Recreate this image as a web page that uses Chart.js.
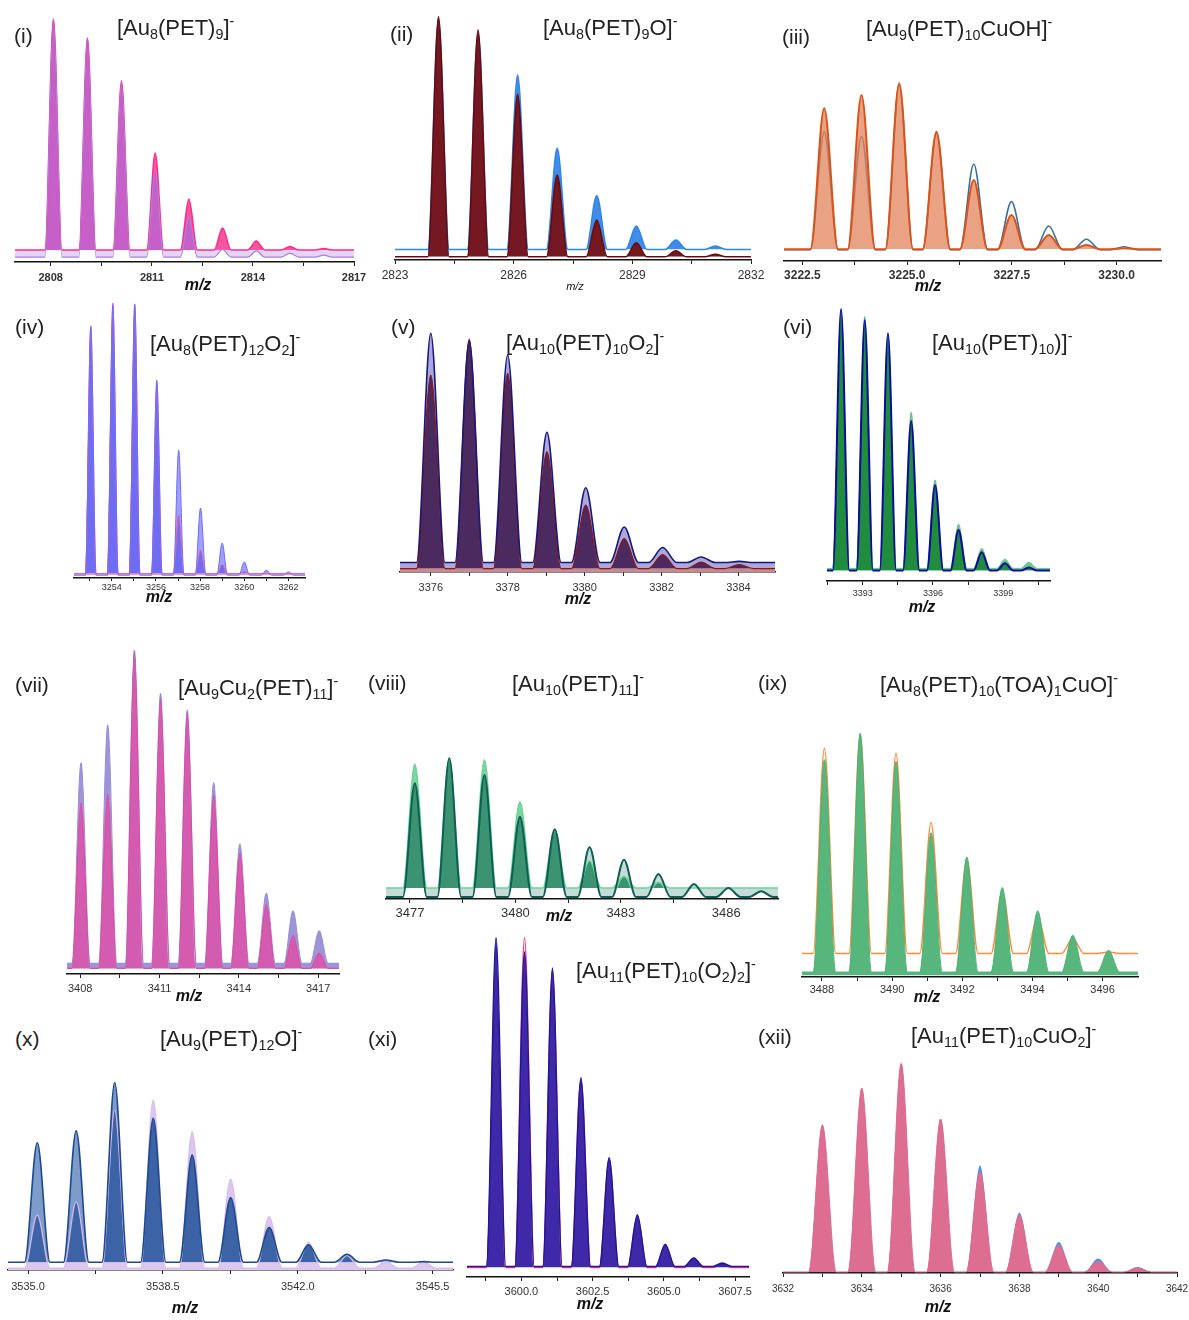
<!DOCTYPE html>
<html><head><meta charset="utf-8">
<script src="https://cdn.jsdelivr.net/npm/chart.js@4.4.0/dist/chart.umd.min.js"></script>
<style>
body{margin:0;background:#fff;width:1189px;height:1320px;position:relative;overflow:hidden;font-family:"Liberation Sans",Arial,sans-serif;}
.lbl{position:absolute;font-size:21px;line-height:1;color:#222;white-space:nowrap;}
.ttl{position:absolute;font-size:22px;line-height:1;color:#222;white-space:nowrap;}
.ttl sub{font-size:65%;vertical-align:-0.28em;line-height:0;}
.ttl sup{font-size:65%;vertical-align:0.62em;line-height:0;}
.mz{position:absolute;line-height:1;transform:translate(-50%,-50%);color:#111;white-space:nowrap;}
</style></head><body>
<script>
// ---------------- DATA (relative intensity, % of panel height) ----------------
// (i) [Au8(PET)9]-
const mz1 = [2808.08, 2809.09, 2810.10, 2811.10, 2812.10, 2813.10, 2814.10, 2815.10, 2816.10];
const pink1 = [98.4, 90.7, 73.3, 44.1, 25.5, 13.8, 8.5, 6.3, 5.5];
const purple1 = [98.3, 90.6, 72.5, 37.2, 18.2, 5.1, 4.5, 3.6, 2.8];
const base1 = [4.9, 2.0];
const ticks1 = ['2808', '2811', '2814', '2817'];
const minor1 = [2809.5, 2812.5, 2815.5];
// (ii) [Au8(PET)9O]-
const mz2 = [2824.1, 2825.1, 2826.1, 2827.1, 2828.1, 2829.1, 2830.1, 2831.1];
const blue2 = [97.6, 92.3, 75.2, 45.4, 26.1, 13.8, 8.1, 5.7];
const red2 = [98.9, 93.5, 67.4, 34.6, 16.3, 7.0, 3.8, 2.3];
const base2 = [4.3, 1.3];
const ticks2 = ['2823', '2826', '2829', '2832'];
const minor2 = [2824.5, 2827.5, 2830.5];
// (iii) [Au9(PET)10CuOH]-
const mz3 = [3223.02, 3223.91, 3224.81, 3225.70, 3226.59, 3227.49, 3228.38, 3229.28, 3230.18];
const orange3 = [84.4, 91.7, 98.2, 71.4, 44.8, 25.4, 14.4, 8.8, 7.0];
const blue3 = [71.4, 68.7, 97.2, 70.5, 53.6, 32.8, 19.3, 12.0, 7.9];
const base3 = [6.5, 6.2];
const ticks3 = ['3222.5', '3225.0', '3227.5', '3230.0'];
const minor3 = [3223.75, 3226.25, 3228.75];
// (iv) [Au8(PET)12O2]-
const mz4 = [3253.05, 3254.05, 3255.04, 3256.04, 3257.03, 3258.02, 3259.0, 3260.0, 3261.0, 3262.0];
const blue4 = [90.4, 98.2, 98.6, 71.2, 46.0, 25.2, 12.6, 5.8, 2.8, 2.2];
const pink4 = [90.7, 98.9, 98.2, 70.1, 22.6, 10.0, 4.9, 2.4, 1.7, 1.5];
const base4 = [1.0, 1.6];
const ticks4 = ['3254', '3256', '3258', '3260', '3262'];
const minor4 = [3253, 3255, 3257, 3259, 3261];
// (v) [Au10(PET)10O2]-
const mz5 = [3376.0, 3377.0, 3378.0, 3379.02, 3380.03, 3381.03, 3382.03, 3383.03, 3384.02];
const navy5 = [98.6, 95.5, 89.7, 57.7, 34.8, 18.6, 10.1, 6.2, 4.4];
const red5 = [81.4, 96.2, 82.1, 49.6, 27.6, 13.8, 7.2, 4.1, 3.1];
const base5 = [3.9, 1.4];
const ticks5 = ['3376', '3378', '3380', '3382', '3384'];
const minor5 = [3377, 3379, 3381, 3383];
// (vi) [Au10(PET)10)]-
const mz6 = [3392.08, 3393.09, 3394.08, 3395.07, 3396.09, 3397.09, 3398.08, 3399.07, 3400.09];
const navy6 = [99.3, 95.3, 90.4, 58.4, 35.0, 18.6, 10.5, 6.5, 4.9];
const green6 = [98.3, 96.5, 90.0, 61.6, 36.9, 20.7, 11.9, 8.0, 6.8];
const base6 = [3.8, 4.6];
const ticks6 = ['3393', '3396', '3399'];
const minor6 = [3391.5, 3394.5, 3397.5, 3400.5];
// (vii) [Au9Cu2(PET)11]-
const mz7 = [3408.03, 3409.04, 3410.05, 3411.04, 3412.05, 3413.05, 3414.04, 3415.04, 3416.05, 3417.04];
const purple7 = [64.8, 76.4, 99.4, 86.1, 81.0, 58.7, 39.9, 24.8, 19.4, 13.3];
const pink7 = [52.4, 55.2, 98.9, 84.6, 80.2, 54.9, 37.0, 21.2, 11.7, 6.3];
const base7 = [3.3, 1.7];
const ticks7 = ['3408', '3411', '3414', '3417'];
const minor7 = [3409.5, 3412.5, 3415.5];
// (viii) [Au10(PET)11]-
const mz8 = [3477.14, 3478.12, 3479.12, 3480.13, 3481.12, 3482.11, 3483.09, 3484.07, 3485.08, 3486.06, 3486.99];
const teal8 = [80.4, 97.7, 86.1, 57.2, 48.5, 36.0, 27.2, 17.3, 10.4, 7.6, 5.3];
const green8 = [93.6, 97.0, 96.5, 67.6, 48.0, 26.5, 15.7, 11.5, 7.6, 7.6, 7.6];
const base8 = [1.4, 7.6];
const ticks8 = ['3477', '3480', '3483', '3486'];
const minor8 = [3478.5, 3481.5, 3484.5];
// (ix) [Au8(PET)10(TOA)1CuO]-
const mz9 = [3488.07, 3489.09, 3490.11, 3491.11, 3492.13, 3493.14, 3494.15, 3495.15, 3496.17];
const green9 = [88.0, 98.7, 87.2, 58.4, 48.6, 36.2, 26.8, 16.9, 10.8];
const orange9 = [92.6, 98.0, 90.6, 62.4, 47.3, 34.5, 24.3, 15.6, 10.1];
const base9 = [2.0, 9.5];
const ticks9 = ['3488', '3490', '3492', '3494', '3496'];
const minor9 = [3489, 3491, 3493, 3495];
// (x) [Au9(PET)12O]-
const mz10 = [3535.24, 3536.25, 3537.25, 3538.25, 3539.26, 3540.26, 3541.26, 3542.28, 3543.28, 3544.29, 3545.27];
const blue10 = [67.0, 73.2, 98.6, 79.8, 60.5, 38.1, 22.3, 13.2, 8.3, 5.3, 4.4];
const lav10 = [28.9, 35.9, 84.2, 89.5, 72.8, 47.9, 28.1, 14.4, 7.5, 4.4, 4.1];
const base10 = [4.1, 1.0];
const ticks10 = ['3535.0', '3538.5', '3542.0', '3545.5'];
const minor10 = [3536.75, 3540.25, 3543.75];
// (xi) [Au11(PET)10(O2)2]-
const mz11 = [3599.11, 3600.11, 3601.09, 3602.09, 3603.08, 3604.07, 3605.05, 3606.05, 3607.05];
const navy11 = [99.2, 95.1, 90.4, 58.3, 34.9, 18.2, 9.6, 5.6, 4.1];
const pink11 = [83.0, 99.2, 89.2, 57.6, 34.3, 17.6, 9.1, 5.1, 3.6];
const base11 = [3.1, 2.8];
const ticks11 = ['3600.0', '3602.5', '3605.0', '3607.5'];
const minor11 = [3598.75, 3601.25, 3603.75, 3606.25];
// (xii) [Au11(PET)10CuO2]-
const mz12 = [3633, 3634, 3635, 3636, 3637, 3638, 3639, 3640, 3641];
const pink12 = [69.4, 86.7, 98.4, 72.3, 47.5, 27.1, 13.0, 5.5, 2.4];
const blue12 = [69.8, 86.7, 98.4, 72.3, 50.6, 28.4, 14.6, 6.8, 2.8];
const base12 = [0.5, 0.5];
const ticks12 = ['3632', '3634', '3636', '3638', '3640', '3642'];
const minor12 = [3633, 3635, 3637, 3639, 3641];

// ---------------- PANEL LAYOUT / STYLE ----------------
const panels = [
 {box:[15,354,15,262], range:[2806.94,2817], hw:0.25, tf:{size:11,weight:'bold'}, tl:4, tp:5, majors:ticks1, minors:minor1, mz:[198,285,16,true],
  series:{P:[mz1,pink1,base1[0]], V:[mz1,purple1,base1[1]]},
  layers:[{s:'V',fill:base1[0],above:'#cfa9ec',below:'#e4d5f5'},{s:'P',fill:base1[0],above:'#f7559f'},{s:['V','P'],fill:base1[0],above:'#c65fc7'},
          {s:'P',line:'#ff2b8c',lw:1.5},{s:'V',line:'#a980e0',lw:1.2}]},
 {box:[395,751,14,260], range:[2823,2832], hw:0.27, tf:{size:12,weight:'normal'}, tl:4, tp:4, majors:ticks2, minors:minor2, mz:[575,286,11,false],
  series:{B:[mz2,blue2,base2[0]], R:[mz2,red2,base2[1]]},
  layers:[{s:'B',fill:base2[0],above:'#3f8de8'},{s:'B',line:'#2d85ee',lw:1.5},{s:'R',fill:base2[1],above:'#761821'},{s:'R',line:'#650c12',lw:1.5}]},
 {box:[784,1161,80,261], range:[3222.06,3231.06], hw:0.33, tf:{size:12,weight:'bold'}, tl:4, tp:3, majors:ticks3, minors:minor3, mz:[928,286,16,true],
  series:{O:[mz3,orange3,base3[0]], B:[mz3,blue3,base3[1]]},
  layers:[{s:'B',line:'#3b6f9c',lw:1.6},{s:'O',fill:base3[0],above:'rgba(225,131,89,0.75)'},{s:'O',line:'#d9541a',lw:2}]},
 {box:[74,305,300,578], range:[3252.29,3262.75], hw:0.24, tf:{size:9,weight:'normal'}, tl:3, tp:1, majors:ticks4, minors:minor4, mz:[159,597,16,true],
  series:{B:[mz4,blue4,base4[0]], P:[mz4,pink4,base4[1]]},
  layers:[{s:'B',fill:base4[0],above:'#a09fff'},{s:'P',fill:base4[0],above:'#ef97c8'},{s:['B','P'],fill:base4[1],above:'#6e6cf2'},
          {s:'P',line:'#e863a3',lw:1},{s:'B',line:'#6d6cff',lw:1}]},
 {box:[400,775,330,572], range:[3375.2,3384.95], hw:0.37, tf:{size:11,weight:'normal'}, tl:4, tp:5, majors:ticks5, minors:minor5, mz:[578,599,16,true],
  series:{N:[mz5,navy5,base5[0]], R:[mz5,red5,base5[1]]},
  layers:[{s:'R',fill:0,above:'#c98a8f'},{s:'N',fill:base5[1],above:'#aaa9da'},{s:['N','R'],fill:base5[1],above:'#4b2a5f'},
          {s:'R',line:'#8a1818',lw:1.2},{s:'N',line:'#17177e',lw:1.6}]},
 {box:[827,1050,307,581], range:[3391.48,3400.99], hw:0.35, tf:{size:9,weight:'normal'}, tl:4, tp:3, majors:ticks6, minors:minor6, mz:[922,607,16,true],
  series:{N:[mz6,navy6,base6[0]], G:[mz6,green6,base6[1]]},
  layers:[{s:'N',fill:base6[0],above:'#bdbdec'},{s:'G',fill:base6[0],above:'#6fc68f'},{s:['N','G'],fill:base6[0],above:'#1f8c3e'},
          {s:'G',line:'#64c48a',lw:1},{s:'N',line:'#0b0b9e',lw:2}]},
 {box:[67,339,648,974], range:[3407.5,3417.79], hw:0.34, tf:{size:11,weight:'normal'}, tl:4, tp:4, majors:ticks7, minors:minor7, mz:[189,996,16,true],
  series:{V:[mz7,purple7,base7[0]], P:[mz7,pink7,base7[1]]},
  layers:[{s:'V',fill:base7[1],above:'#9d95da'},{s:'P',fill:base7[1],above:'#e56bb9'},{s:['V','P'],fill:base7[1],above:'#d45cb0'},
          {s:'V',line:'#958cd6',lw:1},{s:'P',line:'#e24aa3',lw:1.2}]},
 {box:[386,778,755,899], range:[3476.32,3487.47], hw:0.34, tf:{size:13,weight:'normal'}, tl:4, tp:3, majors:ticks8, minors:minor8, mz:[559,916,16,true],
  series:{T:[mz8,teal8,base8[0]], G:[mz8,green8,base8[1]]},
  layers:[{s:'T',fill:base8[1],above:'#c5dbd7',below:'#c5dbd7'},{s:'G',fill:base8[1],above:'#80d4a0'},{s:['T','G'],fill:base8[1],above:'#3c9372'},
          {s:'G',line:'#6ad596',lw:1.5},{s:'T',line:'#0e5e54',lw:2}]},
 {box:[802,1138,730,977], range:[3487.43,3497.01], hw:0.32, tf:{size:11,weight:'normal'}, tl:4, tp:2, majors:ticks9, minors:minor9, mz:[927,997,16,true],
  series:{G:[mz9,green9,base9[0]], O:[mz9,orange9,base9[1]]},
  layers:[{s:'O',line:'#ff8b3d',lw:1.5},{s:'G',fill:0.6,above:'#57b67b'},{s:'G',line:'#4db175',lw:1}]},
 {box:[8,453,1080,1270], range:[3534.48,3546.03], hw:0.33, tf:{size:11,weight:'normal'}, tl:4, tp:6, majors:ticks10, minors:minor10, mz:[185,1308,16,true],
  series:{B:[mz10,blue10,base10[0]], L:[mz10,lav10,base10[1]]},
  layers:[{s:'L',fill:0,above:'#dcc8ef'},{s:'B',fill:base10[0],above:'#7e9cca'},{s:['B','L'],fill:base10[0],above:'#3d63a7'},
          {s:'L',line:'#dab9ef',lw:1.2},{s:'B',line:'#1d4990',lw:1.6}]},
 {box:[467,749,935,1277], range:[3598.09,3607.99], hw:0.34, tf:{size:11,weight:'normal'}, tl:4, tp:4, majors:ticks11, minors:minor11, mz:[590,1304,16,true],
  series:{N:[mz11,navy11,base11[0]], P:[mz11,pink11,base11[1]]},
  layers:[{s:'P',line:'#ff2f80',lw:1.5},{s:'N',fill:base11[1],above:'rgba(55,32,165,0.96)'},{s:'N',line:'#1a1896',lw:1.3}]},
 {box:[783,1177,1060,1273], range:[3632,3642], hw:0.35, tf:{size:10,weight:'normal'}, tl:4, tp:6, majors:ticks12, minors:minor12, mz:[938,1307,16,true],
  series:{P:[mz12,pink12,base12[0]], B:[mz12,blue12,base12[1]]},
  layers:[{s:'B',fill:0.3,above:'#4f95e4'},{s:'P',fill:0.3,above:'#dd6d91'},{s:'P',line:'#e36a93',lw:1}]}
];

function peakPoints(xs, tops, base, hw, xmin, xmax) {
  const pts = [{x: xmin, y: base}];
  xs.forEach((c, i) => { pts.push({x: c - hw, y: base}, {x: c, y: tops[i]}, {x: c + hw, y: base}); });
  pts.push({x: xmax, y: base});
  return pts;
}
const FONT = "'Liberation Sans', Arial, sans-serif";
const CLEAR = 'rgba(0,0,0,0)';

panels.forEach(p => {
  const [L, R, T, B] = p.box;
  const padX = 32, padTop = 6, axisH = 34;
  const W = R - L + 2 * padX, H = padTop + (B - T) + axisH;
  const cv = document.createElement('canvas');
  cv.width = W; cv.height = H;
  cv.style.cssText = `position:absolute;left:${L - padX}px;top:${T - padTop}px;width:${W}px;height:${H}px;`;
  document.body.appendChild(cv);
  const [xmin, xmax] = p.range;
  const getPts = key => {
    if (Array.isArray(key)) {
      const a = p.series[key[0]], b = p.series[key[1]];
      const tops = a[1].map((v, i) => Math.min(v, b[1][i]));
      return peakPoints(a[0], tops, Math.min(a[2], b[2]), p.hw, xmin, xmax);
    }
    const s = p.series[key];
    return peakPoints(s[0], s[1], s[2], p.hw, xmin, xmax);
  };
  const n = p.layers.length;
  const datasets = p.layers.map((ly, k) => ({
    data: getPts(ly.s),
    borderColor: ly.line || CLEAR,
    borderWidth: ly.line ? ly.lw : 0,
    backgroundColor: CLEAR,
    fill: ly.fill !== undefined ? {target: {value: ly.fill}, above: ly.above || CLEAR, below: ly.below || CLEAR} : false,
    pointRadius: 0, pointHoverRadius: 0,
    cubicInterpolationMode: 'monotone',
    order: n - k
  }));
  const tickVals = p.majors.map(Number).concat(p.minors).sort((a, b) => a - b);
  new Chart(cv, {
    type: 'line',
    data: {datasets},
    options: {
      responsive: false, animation: false, devicePixelRatio: 1,
      layout: {padding: {left: padX, right: padX, top: padTop, bottom: 0}},
      plugins: {legend: {display: false}, tooltip: {enabled: false}},
      events: [],
      scales: {
        x: {
          type: 'linear', min: xmin, max: xmax,
          afterBuildTicks: s => { s.ticks = tickVals.map(v => ({value: v})); },
          afterFit: s => { s.height = axisH; },
          ticks: {
            autoSkip: false, maxRotation: 0, minRotation: 0, padding: p.tp, color: '#333',
            font: {family: FONT, size: p.tf.size, weight: p.tf.weight},
            callback: v => { const m = p.majors.find(s => Math.abs(parseFloat(s) - v) < 1e-6); return m === undefined ? '' : m; }
          },
          grid: {drawOnChartArea: false, drawTicks: true, tickLength: p.tl, color: '#222', lineWidth: 1},
          border: {display: true, color: '#111', width: 1.5}
        },
        y: {display: false, min: 0, max: 100}
      }
    }
  });
  const d = document.createElement('div');
  d.className = 'mz';
  d.textContent = 'm/z';
  d.style.left = p.mz[0] + 'px'; d.style.top = p.mz[1] + 'px';
  d.style.fontSize = p.mz[2] + 'px';
  d.style.fontStyle = 'italic';
  d.style.fontWeight = p.mz[3] ? 'bold' : 'normal';
  document.body.appendChild(d);
});
</script>
<div class="lbl" style="left:14px;top:25px">(i)</div>
<div class="ttl" style="left:117px;top:17px">[Au<sub>8</sub>(PET)<sub>9</sub>]<sup>-</sup></div>
<div class="lbl" style="left:390px;top:23px">(ii)</div>
<div class="ttl" style="left:543px;top:17px">[Au<sub>8</sub>(PET)<sub>9</sub>O]<sup>-</sup></div>
<div class="lbl" style="left:782px;top:26px">(iii)</div>
<div class="ttl" style="left:866px;top:18px">[Au<sub>9</sub>(PET)<sub>10</sub>CuOH]<sup>-</sup></div>
<div class="lbl" style="left:15px;top:316px">(iv)</div>
<div class="ttl" style="left:150px;top:333px">[Au<sub>8</sub>(PET)<sub>12</sub>O<sub>2</sub>]<sup>-</sup></div>
<div class="lbl" style="left:391px;top:316px">(v)</div>
<div class="ttl" style="left:506px;top:332px">[Au<sub>10</sub>(PET)<sub>10</sub>O<sub>2</sub>]<sup>-</sup></div>
<div class="lbl" style="left:783px;top:316px">(vi)</div>
<div class="ttl" style="left:932px;top:332px">[Au<sub>10</sub>(PET)<sub>10</sub>)]<sup>-</sup></div>
<div class="lbl" style="left:15px;top:674px">(vii)</div>
<div class="ttl" style="left:178px;top:677px">[Au<sub>9</sub>Cu<sub>2</sub>(PET)<sub>11</sub>]<sup>-</sup></div>
<div class="lbl" style="left:368px;top:672px">(viii)</div>
<div class="ttl" style="left:512px;top:673px">[Au<sub>10</sub>(PET)<sub>11</sub>]<sup>-</sup></div>
<div class="lbl" style="left:758px;top:672px">(ix)</div>
<div class="ttl" style="left:880px;top:674px">[Au<sub>8</sub>(PET)<sub>10</sub>(TOA)<sub>1</sub>CuO]<sup>-</sup></div>
<div class="lbl" style="left:15px;top:1028px">(x)</div>
<div class="ttl" style="left:160px;top:1028px">[Au<sub>9</sub>(PET)<sub>12</sub>O]<sup>-</sup></div>
<div class="lbl" style="left:368px;top:1028px">(xi)</div>
<div class="ttl" style="left:576px;top:960px">[Au<sub>11</sub>(PET)<sub>10</sub>(O<sub>2</sub>)<sub>2</sub>]<sup>-</sup></div>
<div class="lbl" style="left:758px;top:1026px">(xii)</div>
<div class="ttl" style="left:911px;top:1025px">[Au<sub>11</sub>(PET)<sub>10</sub>CuO<sub>2</sub>]<sup>-</sup></div>
</body></html>
